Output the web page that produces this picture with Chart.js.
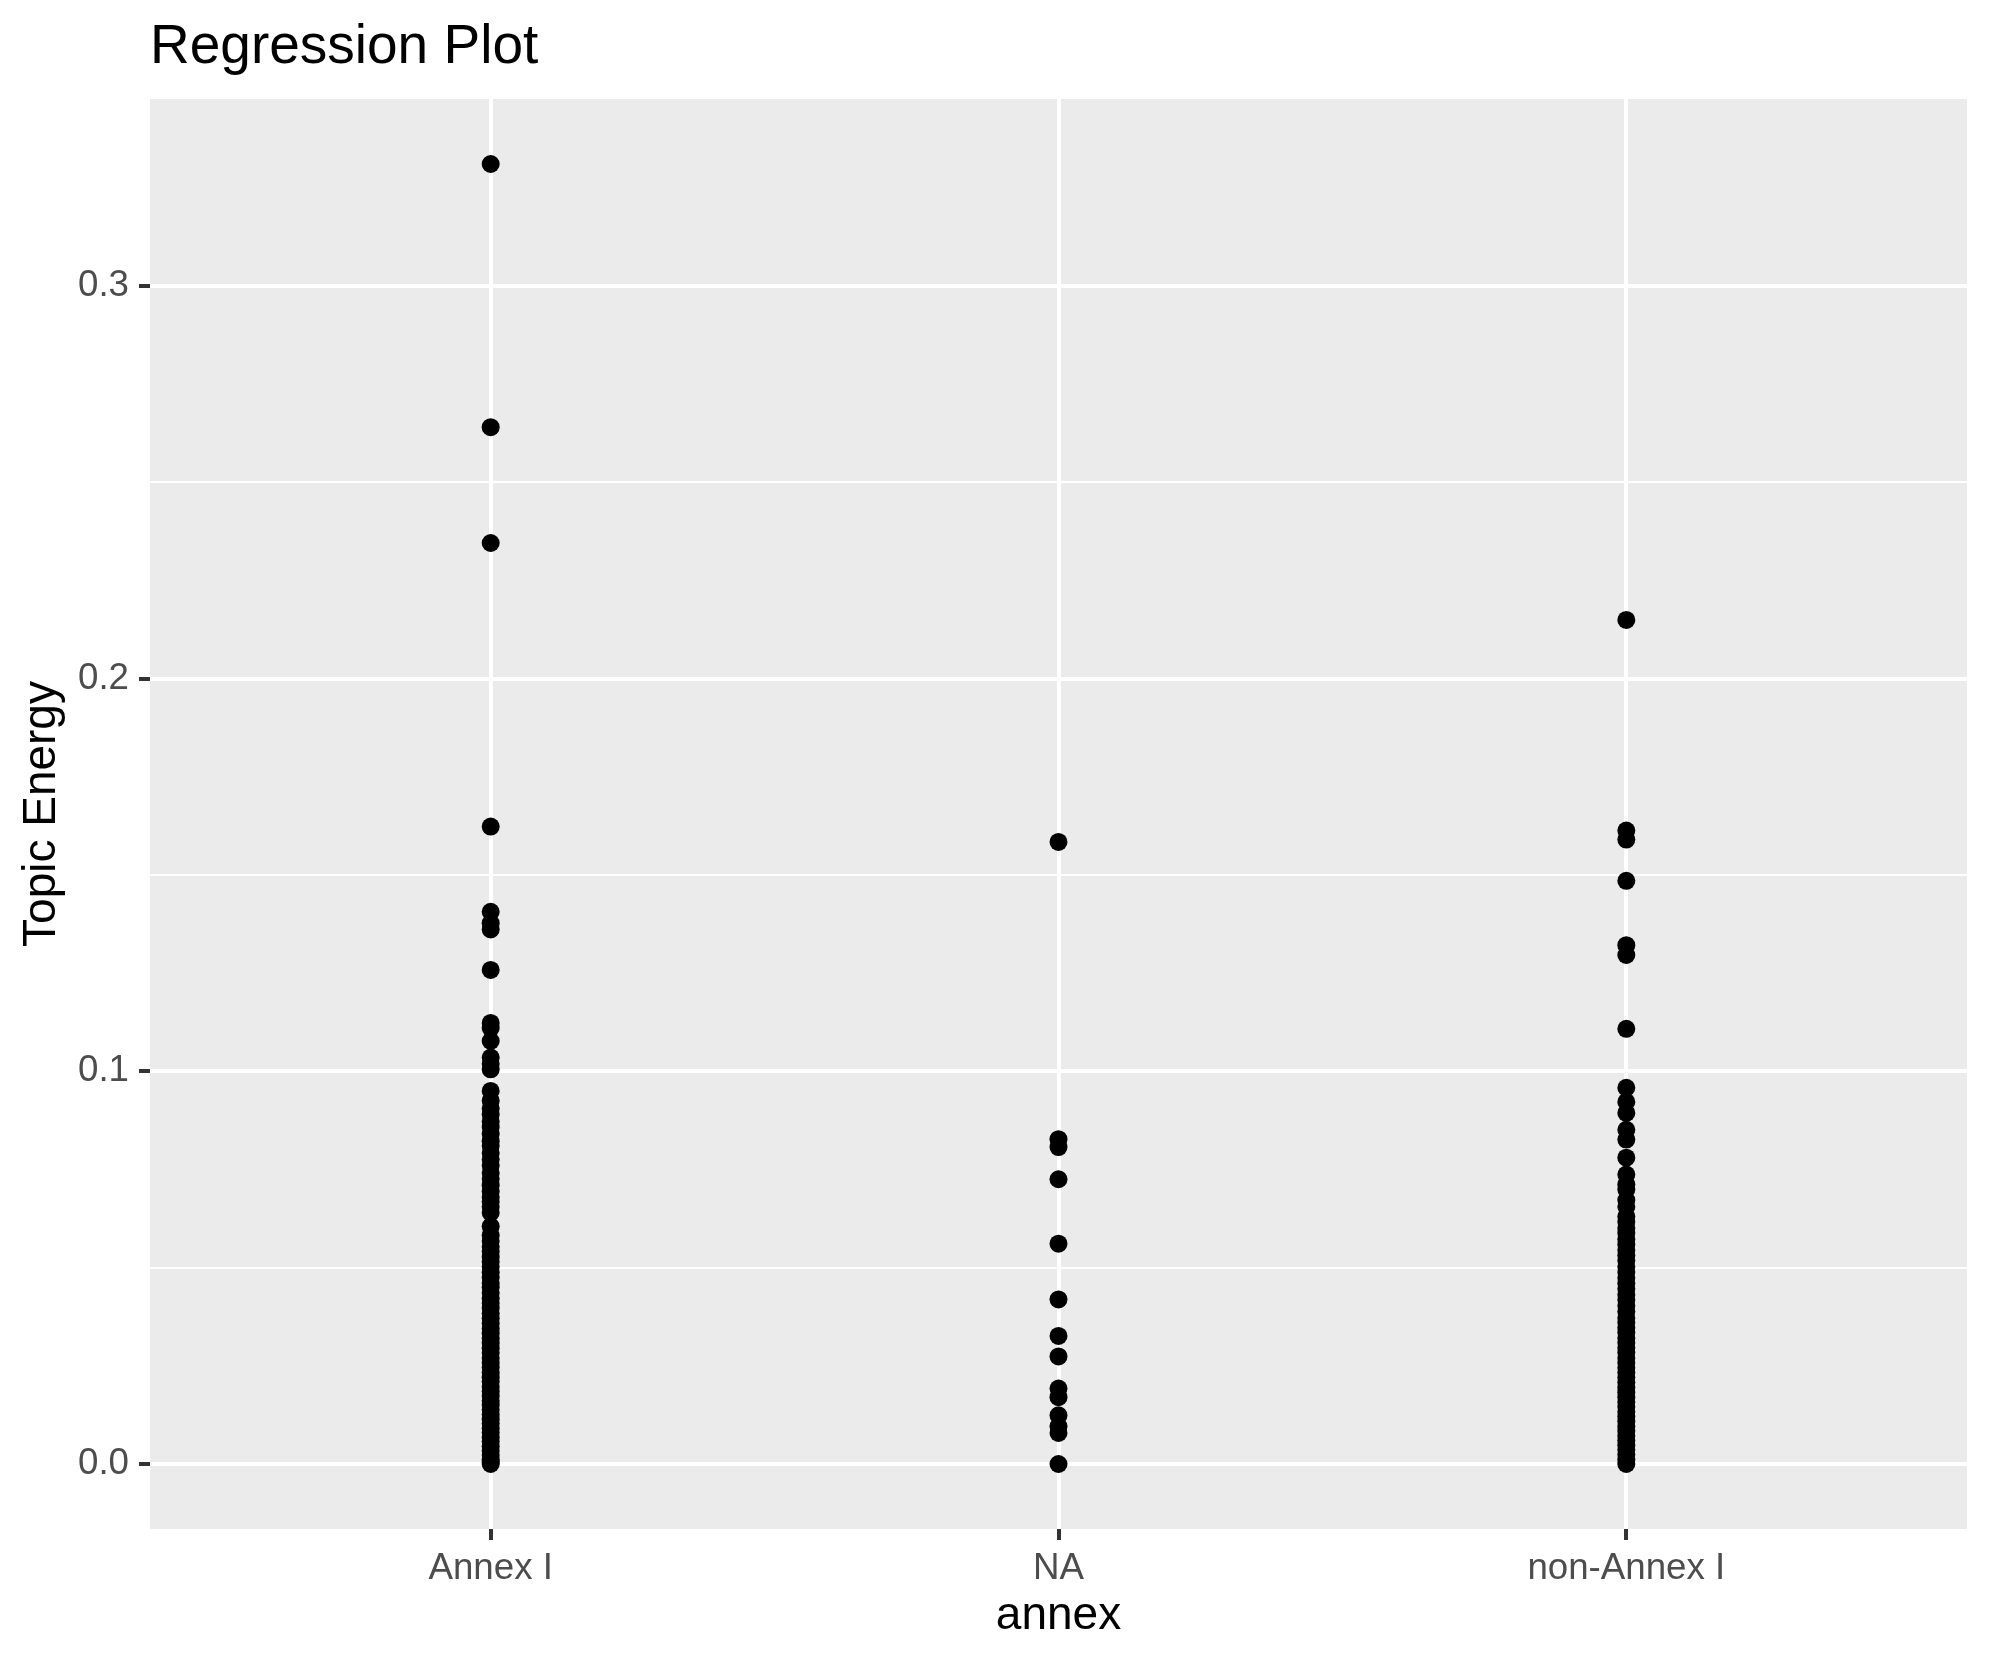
<!DOCTYPE html>
<html>
<head>
<meta charset="utf-8">
<title>Regression Plot</title>
<script src="https://cdn.jsdelivr.net/npm/chart.js@4.4.1/dist/chart.umd.min.js"></script>
<style>
  html, body { margin: 0; padding: 0; background: #ffffff; }
  #plot { display: block; }
</style>
</head>
<body>
<canvas id="plot" width="1990" height="1665"></canvas>
<script>
// categories on the x axis
const categories = ['Annex I', 'NA', 'non-Annex I'];

// topic energy per document
const annexI = [
  0.331, 0.264, 0.2345, 0.1623, 0.1406, 0.1377, 0.1361, 0.1258,
  0.1123, 0.111, 0.1077, 0.1035, 0.1019, 0.1005, 0.0950,
  0.0925, 0.0905, 0.0890, 0.0872, 0.0858, 0.0840, 0.0822, 0.0810,
  0.0792, 0.0775, 0.0760, 0.0741, 0.0726, 0.0710, 0.0694, 0.0680,
  0.0668, 0.0655, 0.0640, 0.0605,
  0.0582, 0.0568, 0.0553, 0.0541, 0.0527, 0.0515, 0.0502, 0.0488,
  0.0475, 0.0461, 0.0450, 0.0436, 0.0422, 0.0410, 0.0397, 0.0383,
  0.0371, 0.0358, 0.0345, 0.0333, 0.0320, 0.0308, 0.0295, 0.0283,
  0.0270, 0.0258, 0.0246, 0.0233, 0.0221, 0.0210, 0.0197, 0.0185,
  0.0173, 0.0161, 0.0150, 0.0138, 0.0126, 0.0114, 0.0103, 0.0091,
  0.0080, 0.0068, 0.0057, 0.0045, 0.0034, 0.0023, 0.0012, 0.0005, 0.0
];
const naVals = [
  0.1584, 0.0827, 0.0807, 0.0725, 0.0561, 0.0419, 0.0326, 0.0274,
  0.0192, 0.0170, 0.0124, 0.0096, 0.0079, 0.0
];
const nonAnnexI = [
  0.2149, 0.1613, 0.1590, 0.1485, 0.1321, 0.1296, 0.1108,
  0.0958, 0.0922, 0.0894, 0.0851, 0.0826, 0.0780, 0.0737, 0.0712,
  0.0699, 0.0672, 0.0655,
  0.0630, 0.0617, 0.0601, 0.0588, 0.0572, 0.0559, 0.0545, 0.0531,
  0.0518, 0.0502, 0.0489, 0.0474, 0.0460, 0.0446, 0.0431, 0.0418,
  0.0403, 0.0388,
  0.0372, 0.0360, 0.0347, 0.0335, 0.0321, 0.0309, 0.0296, 0.0284,
  0.0270, 0.0258, 0.0245, 0.0233, 0.0220, 0.0208, 0.0195, 0.0183,
  0.0170, 0.0158, 0.0146, 0.0133, 0.0121, 0.0109, 0.0096, 0.0084,
  0.0072, 0.0060, 0.0048, 0.0036, 0.0024, 0.0012, 0.0
];

// y grid: labelled majors and unlabelled minors
const yMajor = [0, 0.1, 0.2, 0.3];
const yGrid = [0, 0.05, 0.1, 0.15, 0.2, 0.25, 0.3];
const yLabels = ['0.0', '0.1', '0.2', '0.3'];

const groups = [annexI, naVals, nonAnnexI];
let points = [];
for (let i = 0; i < groups.length; i++) {
  for (let j = 0; j < groups[i].length; j++) {
    points.push({ x: i + 1, y: groups[i][j] });
  }
}

const FONT = '"Liberation Sans", Arial, Helvetica, sans-serif';

function isMajor(v) {
  return yMajor.some(m => Math.abs(m - v) < 1e-9);
}

const ggBack = {
  id: 'ggBack',
  beforeDraw(chart) {
    const c = chart.ctx;
    const a = chart.chartArea;
    c.save();
    c.fillStyle = '#ffffff';
    c.fillRect(0, 0, chart.width, chart.height);
    c.fillStyle = '#EBEBEB';
    c.fillRect(a.left, a.top, a.right - a.left, a.bottom - a.top);
    c.restore();
  },
  afterDraw(chart) {
    const c = chart.ctx;
    c.save();
    c.fillStyle = '#000000';
    c.font = '55px ' + FONT;
    c.textAlign = 'left';
    c.textBaseline = 'alphabetic';
    c.fillText('Regression Plot', chart.chartArea.left, 63);
    c.restore();
  }
};

let ctx = document.getElementById('plot');

var chart = new Chart(ctx, {
  type: 'scatter',
  plugins: [ggBack],
  data: {
    datasets: [{
      label: 'Topic Energy',
      data: points,
      backgroundColor: '#000000',
      borderWidth: 0,
      pointRadius: 9,
      pointHoverRadius: 9
    }]
  },
  options: {
    responsive: false,
    animation: false,
    devicePixelRatio: 1,
    layout: { padding: { top: 99, right: 23, bottom: 0, left: 0 } },
    plugins: {
      legend: { display: false },
      tooltip: { enabled: false },
      title: { display: false }
    },
    scales: {
      x: {
        type: 'linear',
        min: 0.4,
        max: 3.6,
        afterBuildTicks: function (scale) {
          scale.ticks = categories.map((c, i) => ({ value: i + 1 }));
        },
        afterFit: function (scale) {
          scale.height = 136;
        },
        border: { display: false },
        grid: {
          color: '#ffffff',
          lineWidth: 4,
          drawTicks: true,
          tickLength: 11,
          tickWidth: 4,
          tickColor: '#333333'
        },
        ticks: {
          autoSkip: false,
          maxRotation: 0,
          padding: 7,
          color: '#4D4D4D',
          font: { family: FONT, size: 36.7 },
          callback: function (v) {
            return categories[Math.round(v) - 1];
          }
        },
        title: {
          display: true,
          text: 'annex',
          color: '#000000',
          font: { family: FONT, size: 46 },
          padding: { top: 0, bottom: 21 }
        }
      },
      y: {
        type: 'linear',
        min: -0.01655,
        max: 0.34755,
        afterBuildTicks: function (scale) {
          scale.ticks = yGrid.map(v => ({ value: v }));
        },
        afterFit: function (scale) {
          scale.width = 150;
        },
        border: { display: false },
        grid: {
          color: '#ffffff',
          lineWidth: function (c) { return isMajor(c.tick.value) ? 4 : 2; },
          drawTicks: true,
          tickLength: 11,
          tickWidth: 4,
          tickColor: function (c) { return isMajor(c.tick.value) ? '#333333' : 'rgba(0,0,0,0)'; }
        },
        ticks: {
          autoSkip: false,
          padding: 10,
          color: '#4D4D4D',
          font: { family: FONT, size: 36.7 },
          callback: function (v) {
            let k = yMajor.findIndex(m => Math.abs(m - v) < 1e-9);
            return k >= 0 ? yLabels[k] : '';
          }
        },
        title: {
          display: true,
          text: 'Topic Energy',
          color: '#000000',
          font: { family: FONT, size: 46 },
          padding: { top: 15, bottom: 0 }
        }
      }
    }
  }
});
</script>
</body>
</html>
